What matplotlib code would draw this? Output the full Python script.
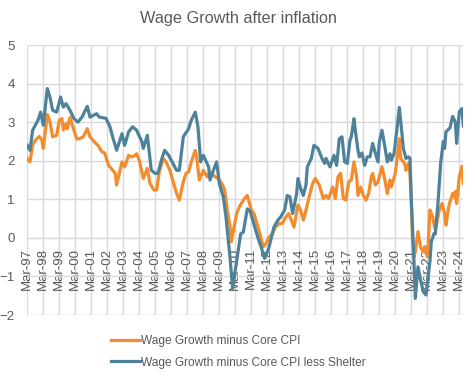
import matplotlib
matplotlib.use("Agg")
import matplotlib.pyplot as plt

plt.rcParams['font.family'] = ['Liberation Sans', 'DejaVu Sans']

# Wage growth minus core CPI
core_dates = [
    "1997-03", "1997-05", "1997-07", "1997-09", "1997-12", "1998-02", "1998-03", "1998-06",
    "1998-08", "1998-10", "1999-01", "1999-03", "1999-05", "1999-06", "1999-08", "1999-09",
    "1999-11", "2000-02", "2000-04", "2000-06", "2000-09", "2000-12", "2001-02", "2001-06",
    "2001-08", "2001-11", "2002-01", "2002-04", "2002-06", "2002-09", "2002-10", "2003-02",
    "2003-04", "2003-07", "2003-09", "2003-12", "2004-01", "2004-03", "2004-06", "2004-09",
    "2004-11", "2005-02", "2005-04", "2005-06", "2005-09", "2005-11", "2006-02", "2006-04",
    "2006-07", "2006-09", "2006-12", "2007-02", "2007-04", "2007-06", "2007-09", "2007-10",
    "2007-12", "2008-03", "2008-06", "2008-08", "2008-12", "2009-02", "2009-05", "2009-07",
    "2009-09", "2009-11", "2009-12", "2010-04", "2010-06", "2010-09", "2010-12", "2011-01",
    "2011-03", "2011-05", "2011-08", "2011-10", "2011-12", "2012-02", "2012-04", "2012-07",
    "2012-09", "2012-12", "2013-02", "2013-05", "2013-07", "2013-09", "2013-11", "2014-02",
    "2014-04", "2014-06", "2014-08", "2014-11", "2015-01", "2015-03", "2015-06", "2015-09",
    "2015-11", "2016-01", "2016-04", "2016-06", "2016-08", "2016-10", "2016-12", "2017-02",
    "2017-04", "2017-06", "2017-08", "2017-10", "2017-11", "2018-01", "2018-03", "2018-05",
    "2018-07", "2018-09", "2018-10", "2018-12", "2019-02", "2019-05", "2019-07", "2019-09",
    "2019-11", "2019-12", "2020-03", "2020-06", "2020-07", "2020-10", "2020-11", "2021-01",
    "2021-02", "2021-03", "2021-04", "2021-05", "2021-06", "2021-08", "2021-10", "2021-12",
    "2022-01", "2022-03", "2022-04", "2022-05", "2022-07", "2022-09", "2022-10", "2022-12",
    "2023-02", "2023-04", "2023-05", "2023-07", "2023-08", "2023-10", "2023-11", "2023-12",
    "2024-01", "2024-03", "2024-05", "2024-06",
]
core_values = [
    2.06, 1.97, 2.40, 2.53, 2.63, 2.53, 2.32, 3.20,
    3.01, 2.62, 2.66, 3.05, 3.09, 2.80, 2.96, 2.83,
    3.12, 2.79, 2.57, 2.57, 2.62, 2.83, 2.62, 2.46,
    2.40, 2.23, 2.20, 1.88, 1.80, 1.67, 1.37, 1.97,
    1.84, 2.14, 2.10, 2.14, 2.18, 2.01, 1.54, 1.80,
    1.41, 1.24, 1.24, 1.71, 2.06, 1.97, 1.75, 1.50,
    1.15, 0.98, 1.45, 1.67, 1.71, 1.97, 2.27, 2.10,
    1.50, 1.75, 1.58, 1.71, 1.58, 1.54, 1.41, 1.24,
    0.72, 0.30, -0.10, 0.63, 0.80, 0.98, 1.10, 0.98,
    0.72, 0.63, 0.28, 0.03, -0.23, -0.15, 0.00, 0.11,
    0.28, 0.37, 0.37, 0.54, 0.63, 0.46, 0.28, 0.85,
    0.72, 0.46, 0.72, 1.15, 1.41, 1.54, 1.37, 1.02,
    1.10, 1.02, 1.32, 1.02, 1.58, 1.67, 1.02, 0.98,
    1.45, 1.50, 1.97, 1.58, 1.10, 1.32, 1.10, 0.98,
    1.15, 1.58, 1.67, 1.37, 1.45, 1.84, 1.54, 1.15,
    1.50, 1.32, 1.67, 2.57, 2.06, 1.93, 1.75, 1.93,
    1.67, 0.90, -0.10, -0.50, -0.35, 0.16, -0.25, -0.36,
    -0.23, -0.49, 0.03, 0.72, 0.54, 0.20, 0.37, 0.72,
    0.89, 0.63, 0.33, 0.80, 0.93, 1.15, 1.06, 1.20,
    0.89, 1.58, 1.85, 1.41,
]

# Wage growth minus core CPI less shelter
ex_shelter_dates = [
    "1997-03", "1997-05", "1997-07", "1997-11", "1998-01", "1998-03", "1998-06", "1998-08",
    "1998-10", "1999-01", "1999-04", "1999-06", "1999-08", "1999-11", "2000-02", "2000-05",
    "2000-08", "2000-12", "2001-02", "2001-07", "2001-09", "2002-02", "2002-05", "2002-07",
    "2002-10", "2003-02", "2003-04", "2003-07", "2003-10", "2004-01", "2004-05", "2004-06",
    "2004-09", "2004-12", "2005-03", "2005-05", "2005-08", "2005-10", "2006-01", "2006-03",
    "2006-07", "2006-09", "2006-12", "2007-04", "2007-06", "2007-09", "2007-11", "2008-01",
    "2008-03", "2008-07", "2008-08", "2008-10", "2009-01", "2009-03", "2009-06", "2009-08",
    "2009-11", "2010-01", "2010-04", "2010-07", "2010-09", "2010-12", "2011-02", "2011-05",
    "2011-08", "2011-10", "2012-01", "2012-04", "2012-06", "2012-08", "2012-11", "2013-01",
    "2013-04", "2013-06", "2013-08", "2013-10", "2014-01", "2014-02", "2014-04", "2014-06",
    "2014-08", "2014-09", "2014-12", "2015-02", "2015-05", "2015-08", "2015-10", "2015-11",
    "2016-02", "2016-05", "2016-07", "2016-09", "2016-11", "2017-01", "2017-03", "2017-05",
    "2017-06", "2017-08", "2017-09", "2017-11", "2017-12", "2018-02", "2018-04", "2018-06",
    "2018-08", "2018-10", "2018-12", "2019-02", "2019-03", "2019-05", "2019-07", "2019-09",
    "2019-11", "2019-12", "2020-02", "2020-03", "2020-06", "2020-08", "2020-09", "2020-11",
    "2021-01", "2021-02", "2021-03", "2021-04", "2021-05", "2021-06", "2021-08", "2021-10",
    "2021-12", "2022-02", "2022-03", "2022-05", "2022-06", "2022-08", "2022-09", "2022-11",
    "2023-01", "2023-03", "2023-04", "2023-05", "2023-08", "2023-10", "2023-12", "2024-01",
    "2024-03", "2024-05", "2024-06",
]
ex_shelter_values = [
    2.40, 2.27, 2.79, 3.05, 3.26, 2.92, 3.87, 3.65,
    3.31, 3.26, 3.65, 3.39, 3.48, 3.31, 3.09, 3.00,
    3.13, 3.41, 3.13, 3.22, 3.13, 3.10, 2.88, 2.62,
    2.27, 2.70, 2.40, 2.75, 2.88, 2.79, 2.49, 2.32,
    2.66, 1.75, 1.67, 1.68, 2.06, 2.27, 2.14, 2.01,
    1.75, 1.75, 2.62, 2.83, 3.05, 3.26, 2.88, 1.97,
    2.14, 1.84, 1.50, 1.70, 1.97, 1.41, 1.06, 0.54,
    -0.49, -1.31, -0.60, 0.10, 0.15, 0.75, 0.70, 0.35,
    0.00, -0.20, -0.53, -0.28, 0.00, 0.28, 0.46, 0.54,
    0.72, 1.10, 1.06, 0.63, 1.15, 1.54, 1.28, 1.10,
    1.37, 1.84, 2.06, 2.40, 2.32, 2.06, 1.93, 2.06,
    1.84, 2.14, 1.88, 2.57, 2.62, 1.97, 1.93, 2.53,
    2.62, 3.09, 2.79, 2.27, 2.10, 2.20, 1.88, 2.10,
    2.10, 2.45, 2.20, 1.97, 2.49, 2.79, 2.40, 1.97,
    2.18, 2.01, 2.18, 2.45, 3.38, 2.70, 2.32, 2.06,
    2.10, 2.06, 1.00, 0.20, -0.60, -1.57, -0.75, -1.10,
    -1.40, -1.48, -1.18, -0.60, -0.10, 0.11, 0.10, 0.90,
    1.93, 2.50, 2.32, 2.75, 2.85, 3.15, 3.00, 2.45,
    3.27, 3.35, 2.90,
]

tick_labels = ["Mar-%02d" % (y % 100) for y in range(1997, 2025)]


def month_index(s):
    # months since Mar-1997
    y, m = map(int, s.split('-'))
    return (y - 1997) * 12 + (m - 3)


grey = '#595959'
grid_c = '#D9D9D9'

fig = plt.figure(figsize=(4.76, 3.77), dpi=100)
ax = fig.add_axes([27.3 / 476, 62 / 377, 436 / 476, 270 / 377])

# spine position first, it resets the tick labels
for side in ['top', 'right', 'left']:
    ax.spines[side].set_visible(False)
ax.spines['bottom'].set_position(('data', 0))
ax.spines['bottom'].set_color(grid_c)

ax.plot([month_index(d) for d in core_dates], core_values,
        color='#F38C2D', lw=2.3, label='Wage Growth minus Core CPI', zorder=3)
ax.plot([month_index(d) for d in ex_shelter_dates], ex_shelter_values,
        color='#4E829B', lw=2.3, label='Wage Growth minus Core CPI less Shelter', zorder=4)

ax.set_xlim(0, 327)
ax.set_ylim(-2, 5)
ax.set_yticks(range(-2, 6))
ax.set_xticks([12 * i for i in range(len(tick_labels))])
ax.set_xticklabels(tick_labels)

ax.grid(True, color=grid_c, lw=1)
ax.set_axisbelow(True)
ax.tick_params(axis='both', length=0, colors=grey, labelsize=9.5)
ax.tick_params(axis='x', pad=7, labelrotation=90)
ax.tick_params(axis='y', pad=9)
for lab in ax.get_xticklabels():
    lab.set_ha('center')
    lab.set_va('top')

fig.suptitle('Wage Growth after inflation', color=grey, fontsize=11.7, y=0.972)

fig.legend(loc='upper left', bbox_to_anchor=(111 / 476, 1 - 335 / 377), frameon=False,
           fontsize=8.6, labelcolor=grey, handlelength=2.4, handletextpad=0.1,
           labelspacing=0.8, borderpad=0, borderaxespad=0)

fig.savefig('out.png', dpi=100)
